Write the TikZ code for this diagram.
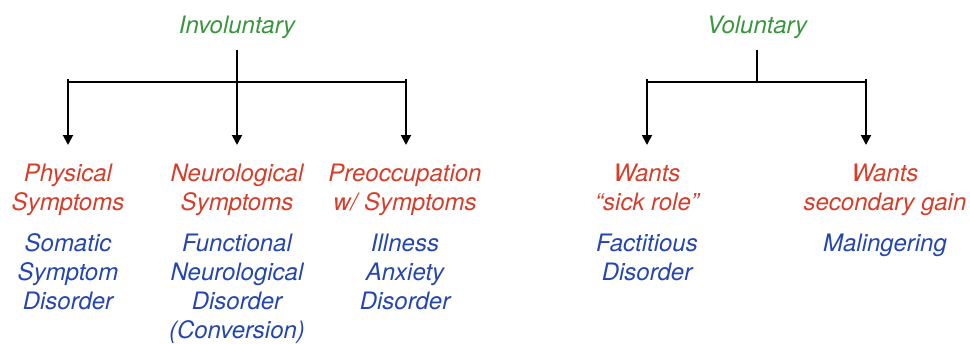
\documentclass[tikz,border=0pt]{standalone}
\usepackage{fontspec}
\setmainfont{TeX Gyre Heros}
\usetikzlibrary{arrows.meta}
\definecolor{catgreen}{RGB}{58,150,62}
\definecolor{whyred}{RGB}{212,62,42}
\definecolor{dxblue}{RGB}{36,70,174}
\tikzset{
  lbl/.style={anchor=north,inner sep=0pt,align=center,font=\fontsize{24}{29}\selectfont\itshape},
  pick/.style={-{Triangle[width=10pt,length=10pt]},shorten <=-3pt,shorten >=18pt},
}
\begin{document}
\begin{tikzpicture}[x=1pt,y=-1pt,line width=1.9pt]
\path[use as bounding box] (0,0) rectangle (970,343);
% headings
\node[lbl,catgreen] (inv) at (237,15) {Involuntary};
\node[lbl,catgreen] (vol) at (757,15) {Voluntary};
% reasons
\node[lbl,whyred] (phys) at (68,163) {Physical\\Symptoms};
\node[lbl,whyred] (neuro) at (237,163) {Neurological\\Symptoms};
\node[lbl,whyred] (preoc) at (405,163) {Preoccupation\\w/ Symptoms};
\node[lbl,whyred] (sick) at (647,163) {Wants\\“sick role”};
\node[lbl,whyred] (gain) at (885,163) {Wants\\secondary gain};
% disorders
\node[lbl,dxblue] (ssd) at (68,233) {Somatic\\Symptom\\Disorder};
\node[lbl,dxblue] (fnd) at (237,233) {Functional\\Neurological\\Disorder\\(Conversion)};
\node[lbl,dxblue] (iad) at (405,233) {Illness\\Anxiety\\Disorder};
\node[lbl,dxblue] (fd) at (647,233) {Factitious\\Disorder};
\node[lbl,dxblue] (mal) at (885,233) {Malingering};
% involuntary tree
\coordinate (invL) at (68,82);
\coordinate (invM) at (237,82);
\coordinate (invR) at (406,82);
\draw[shorten <=10pt] (inv) -- (invM);
\draw (invL) -- (invR);
\draw[pick] (invL) -- (phys);
\draw[pick] (invM) -- (neuro);
\draw[pick] (invR) -- (invR |- preoc.north);
% voluntary tree
\coordinate (volL) at (647,82);
\coordinate (volM) at (757,82);
\coordinate (volR) at (866,82);
\draw[shorten <=10pt] (vol) -- (volM);
\draw (volL) -- (volR);
\draw[pick] (volL) -- (sick);
\draw[pick] (volR) -- (volR |- gain.north);
\end{tikzpicture}
\end{document}
